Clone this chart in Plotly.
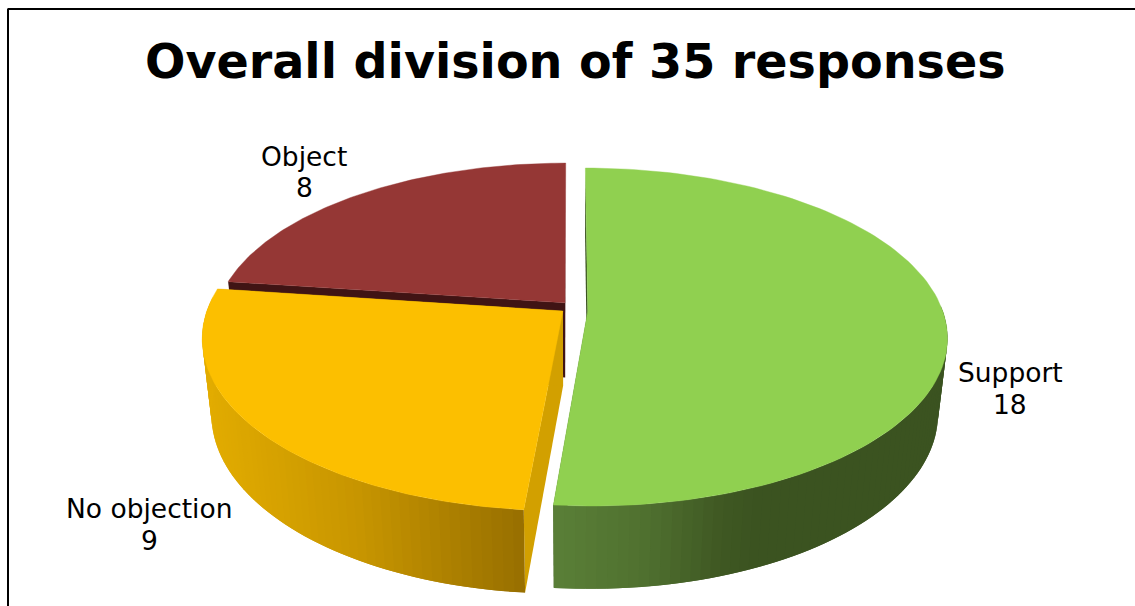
import numpy as np
import plotly.graph_objects as go

categories = ["Support", "No objection", "Object"]
responses = [18, 9, 8]
title_text = "Overall division of 35 responses"

# --- styling and projection of the tilted pie (not data) ---
XV, Y0, BX, AY, DZ, KV, MZ = 570.0, 311.0, 355.0, 165.0, 77.0, 0.154, 0.025
slice_offset = [(0.050, 0.0, 1.0, 1.0), (-0.020, 0.0, 1.003, 1.02), (-0.014, 0.05, 0.985, 0.99)]
top_col = ["#90d050", "#fcbf00", "#953735"]
face_col = ["#3b5320", "#d2a000", "#401414"]
wall_stops = [
    [(553, (90, 127, 56)), (640, (80, 113, 48)), (720, (63, 88, 35)), (760, (59, 83, 32)), (950, (59, 83, 32))],
    [(205, (226, 172, 0)), (350, (200, 150, 0)), (525, (150, 110, 0))],
    [(0, (64, 20, 20)), (1135, (64, 20, 20))],
]
label_pos = [(1010, 372, 404), (149, 508, 540), (304, 156, 187)]


def proj(u, v, z=0.0):
    w = 1 + KV * v + MZ * z
    return XV + BX * u / w, Y0 + (-AY * v + DZ * z) / w


def wall_colour(stops, x):
    xs = [s[0] for s in stops]
    rgb = [np.interp(x, xs, [s[1][i] for s in stops]) for i in range(3)]
    return "rgb(%d,%d,%d)" % tuple(rgb)


def poly(xs, ys, colour, lw=0.0):
    return go.Scatter(
        x=list(xs) + [xs[0]], y=list(ys) + [ys[0]], mode="lines", fill="toself",
        fillcolor=colour, line=dict(color=colour, width=lw), hoverinfo="skip", showlegend=False,
    )


fig = go.Figure()
total = sum(responses)
edges = np.concatenate([[0], np.cumsum(responses)]) / total * 2 * np.pi

for i in [2, 1, 0]:
    a0, a1 = edges[i], edges[i + 1]
    ou, ov, rx, ry = slice_offset[i]

    def pt(a, z=0.0, r=1.0):
        return proj(ou + r * rx * np.sin(a), ov + r * ry * np.cos(a), z)

    # radial cut faces
    for a in (a0, a1):
        p = [pt(a, 0, 0), pt(a, 0), pt(a, 1), pt(a, 1, 0)]
        fig.add_trace(poly([q[0] for q in p], [q[1] for q in p], face_col[i]))
    # outer wall: front-facing strips only, each reaching under the next so no seams show
    angs = np.linspace(a0, a1, int((a1 - a0) / np.radians(1.5)) + 2)
    strips = [(s, min(a1, s + 2 * (angs[1] - angs[0]))) for s in angs[:-1] if np.cos(s) < 0.05]
    for s, e in strips:
        rng = np.linspace(s, e, 4)
        p = [pt(a) for a in rng] + [pt(a, 1) for a in rng[::-1]]
        xs = [q[0] for q in p]
        fig.add_trace(poly(xs, [q[1] for q in p], wall_colour(wall_stops[i], pt((s + e) / 2)[0])))
    # top face
    angs = np.linspace(a0, a1, 120)
    p = [pt(0, 0, 0)] + [pt(a) for a in angs]
    fig.add_trace(poly([q[0] for q in p], [q[1] for q in p], top_col[i], 0.4))

annotations = []
for name, val, (lx, ly1, ly2) in zip(categories, responses, label_pos):
    for text, ly in ((name, ly1), (str(val), ly2)):
        annotations.append(dict(x=lx, y=ly, text=text, showarrow=False, xanchor="center", yanchor="middle",
                                font=dict(family="DejaVu Sans", size=26.5, color="#000000")))
annotations.append(dict(x=575, y=61, text="<b>%s</b>" % title_text, showarrow=False, xanchor="center",
                        yanchor="middle", font=dict(family="DejaVu Sans", size=47.6, color="#000000")))

fig.update_layout(
    width=1135, height=606, margin=dict(l=0, r=0, t=0, b=0), paper_bgcolor="white", plot_bgcolor="white",
    showlegend=False, annotations=annotations, hovermode=False,
    xaxis=dict(range=[0, 1135], visible=False, fixedrange=True),
    yaxis=dict(range=[606, 0], visible=False, fixedrange=True),
    shapes=[
        dict(type="line", x0=7.5, y0=9, x1=1135, y1=9, line=dict(color="#000000", width=2)),
        dict(type="line", x0=8, y0=9, x1=8, y1=606, line=dict(color="#000000", width=2)),
    ],
)
fig.write_html("out.html", post_script="document.body.style.margin='0';document.body.style.overflow='hidden';",
               config=dict(displayModeBar=False))
